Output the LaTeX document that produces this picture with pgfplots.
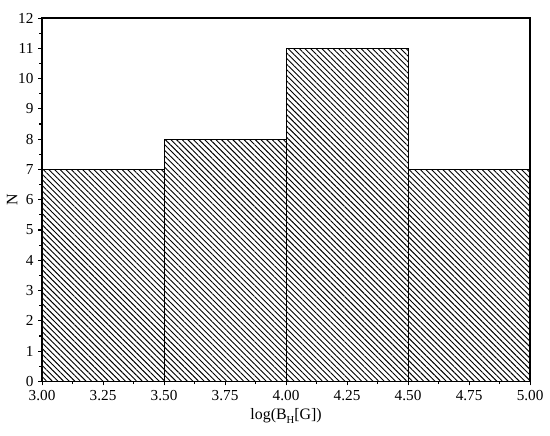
\documentclass[border=0pt]{standalone}
\usepackage{fontspec}
\setmainfont{Liberation Serif}
\usepackage{pgfplots}
\pgfplotsset{compat=1.18}
\usetikzlibrary{patterns.meta}
\begin{document}
\begin{tikzpicture}
\begin{axis}[
  scale only axis,
  width=368pt, height=274pt,
  xmin=3, xmax=5, ymin=0, ymax=12,
  xtick={3,3.25,...,5},
  ytick={0,1,...,12},
  minor x tick num=1,
  minor y tick num=1,
  tick pos=left,
  tick align=outside,
  major tick length=3pt,
  minor tick length=2pt,
  axis line style={line width=1pt},
  every tick/.style={black, line width=0.8pt},
  /pgf/number format/assume math mode=true,
  xticklabel style={/pgf/number format/.cd, fixed, fixed zerofill, precision=2},
  ticklabel style={font=\fontsize{11.5}{13}\selectfont},
  label style={font=\fontsize{12}{14}\selectfont},
  xlabel={log(B\raisebox{-0.45ex}{\fontsize{8}{9}\selectfont H}[G])},
  ylabel={N},
  xlabel style={at={(axis description cs:0.5,0)}, anchor=center, yshift=-26pt},
  ylabel style={at={(axis description cs:0,0.5)}, anchor=center, yshift=22.5pt},
]
\addplot[ybar interval, draw=black, line width=0.8pt,
  pattern={Lines[angle=-45, distance=3pt, line width=0.7pt]}, pattern color=black]
  coordinates {(3,7) (3.5,8) (4,11) (4.5,7) (5,7)};
\end{axis}
\path (current axis.south west) ++(-31.7pt,-41pt) coordinate (a);
\path (current axis.north east) ++(15pt,13.6pt) coordinate (b);
\path (a) rectangle (b);
\end{tikzpicture}
\end{document}
